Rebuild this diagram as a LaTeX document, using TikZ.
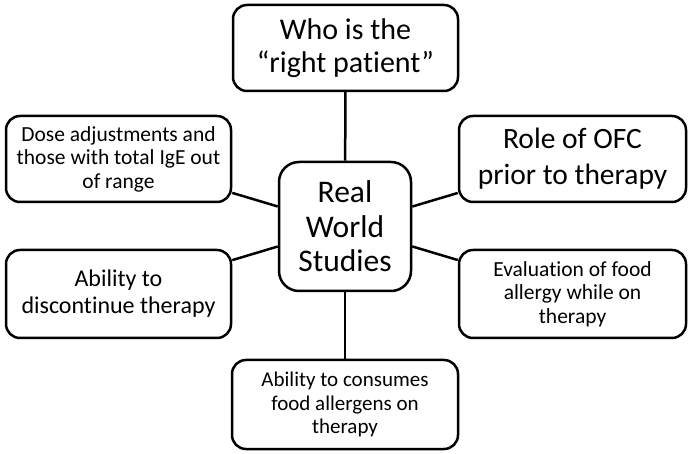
\documentclass[tikz,border=0pt]{standalone}
\usepackage{fontspec}
\setmainfont{Carlito}[Ligatures=NoCommon]
\begin{document}
\begin{tikzpicture}[x=1pt,y=-1pt,
  box/.style={draw=black, line width=2.5pt, rounded corners=14pt, align=center, inner sep=0pt, fill=white},
  link/.style={draw=black, line width=2.5pt}]
\useasboundingbox (0,0) rectangle (691,454);
\node[box, minimum width=225pt, minimum height=86pt, font=\fontsize{30}{33}\selectfont] (top) at (345.5,48) {Who is the\\“right patient”};
\node[box, rounded corners=20pt, minimum width=132pt, minimum height=129pt, font=\fontsize{31.5}{34.5}\selectfont] (center) at (345,226.5) {Real\\World\\Studies};
\node[box, minimum width=225pt, minimum height=86pt, font=\fontsize{21.5}{23.5}\selectfont] (dose) at (118.5,159) {Dose adjustments and\\those with total IgE out\\of range};
\node[box, minimum width=227pt, minimum height=86pt, font=\fontsize{29.5}{36}\selectfont] (role) at (572.5,159) {Role of OFC\\prior to therapy};
\node[box, minimum width=225pt, minimum height=88pt, font=\fontsize{24}{27}\selectfont] (disc) at (118.5,294) {Ability to\\discontinue therapy};
\node[box, minimum width=227pt, minimum height=88pt, font=\fontsize{21.5}{23.5}\selectfont] (eval) at (572.5,294) {Evaluation of food\\allergy while on\\therapy};
\node[box, minimum width=226pt, minimum height=89pt, font=\fontsize{21}{23.3}\selectfont] (bottom) at (345,404.5) {Ability to consumes\\food allergens on\\therapy};
\draw[link] (top) -- (center);
\draw[link] (bottom) -- (center);
\draw[link] (dose) -- (center);
\draw[link] (role) -- (center);
\draw[link] (disc) -- (center);
\draw[link] (eval) -- (center);
\end{tikzpicture}
\end{document}
